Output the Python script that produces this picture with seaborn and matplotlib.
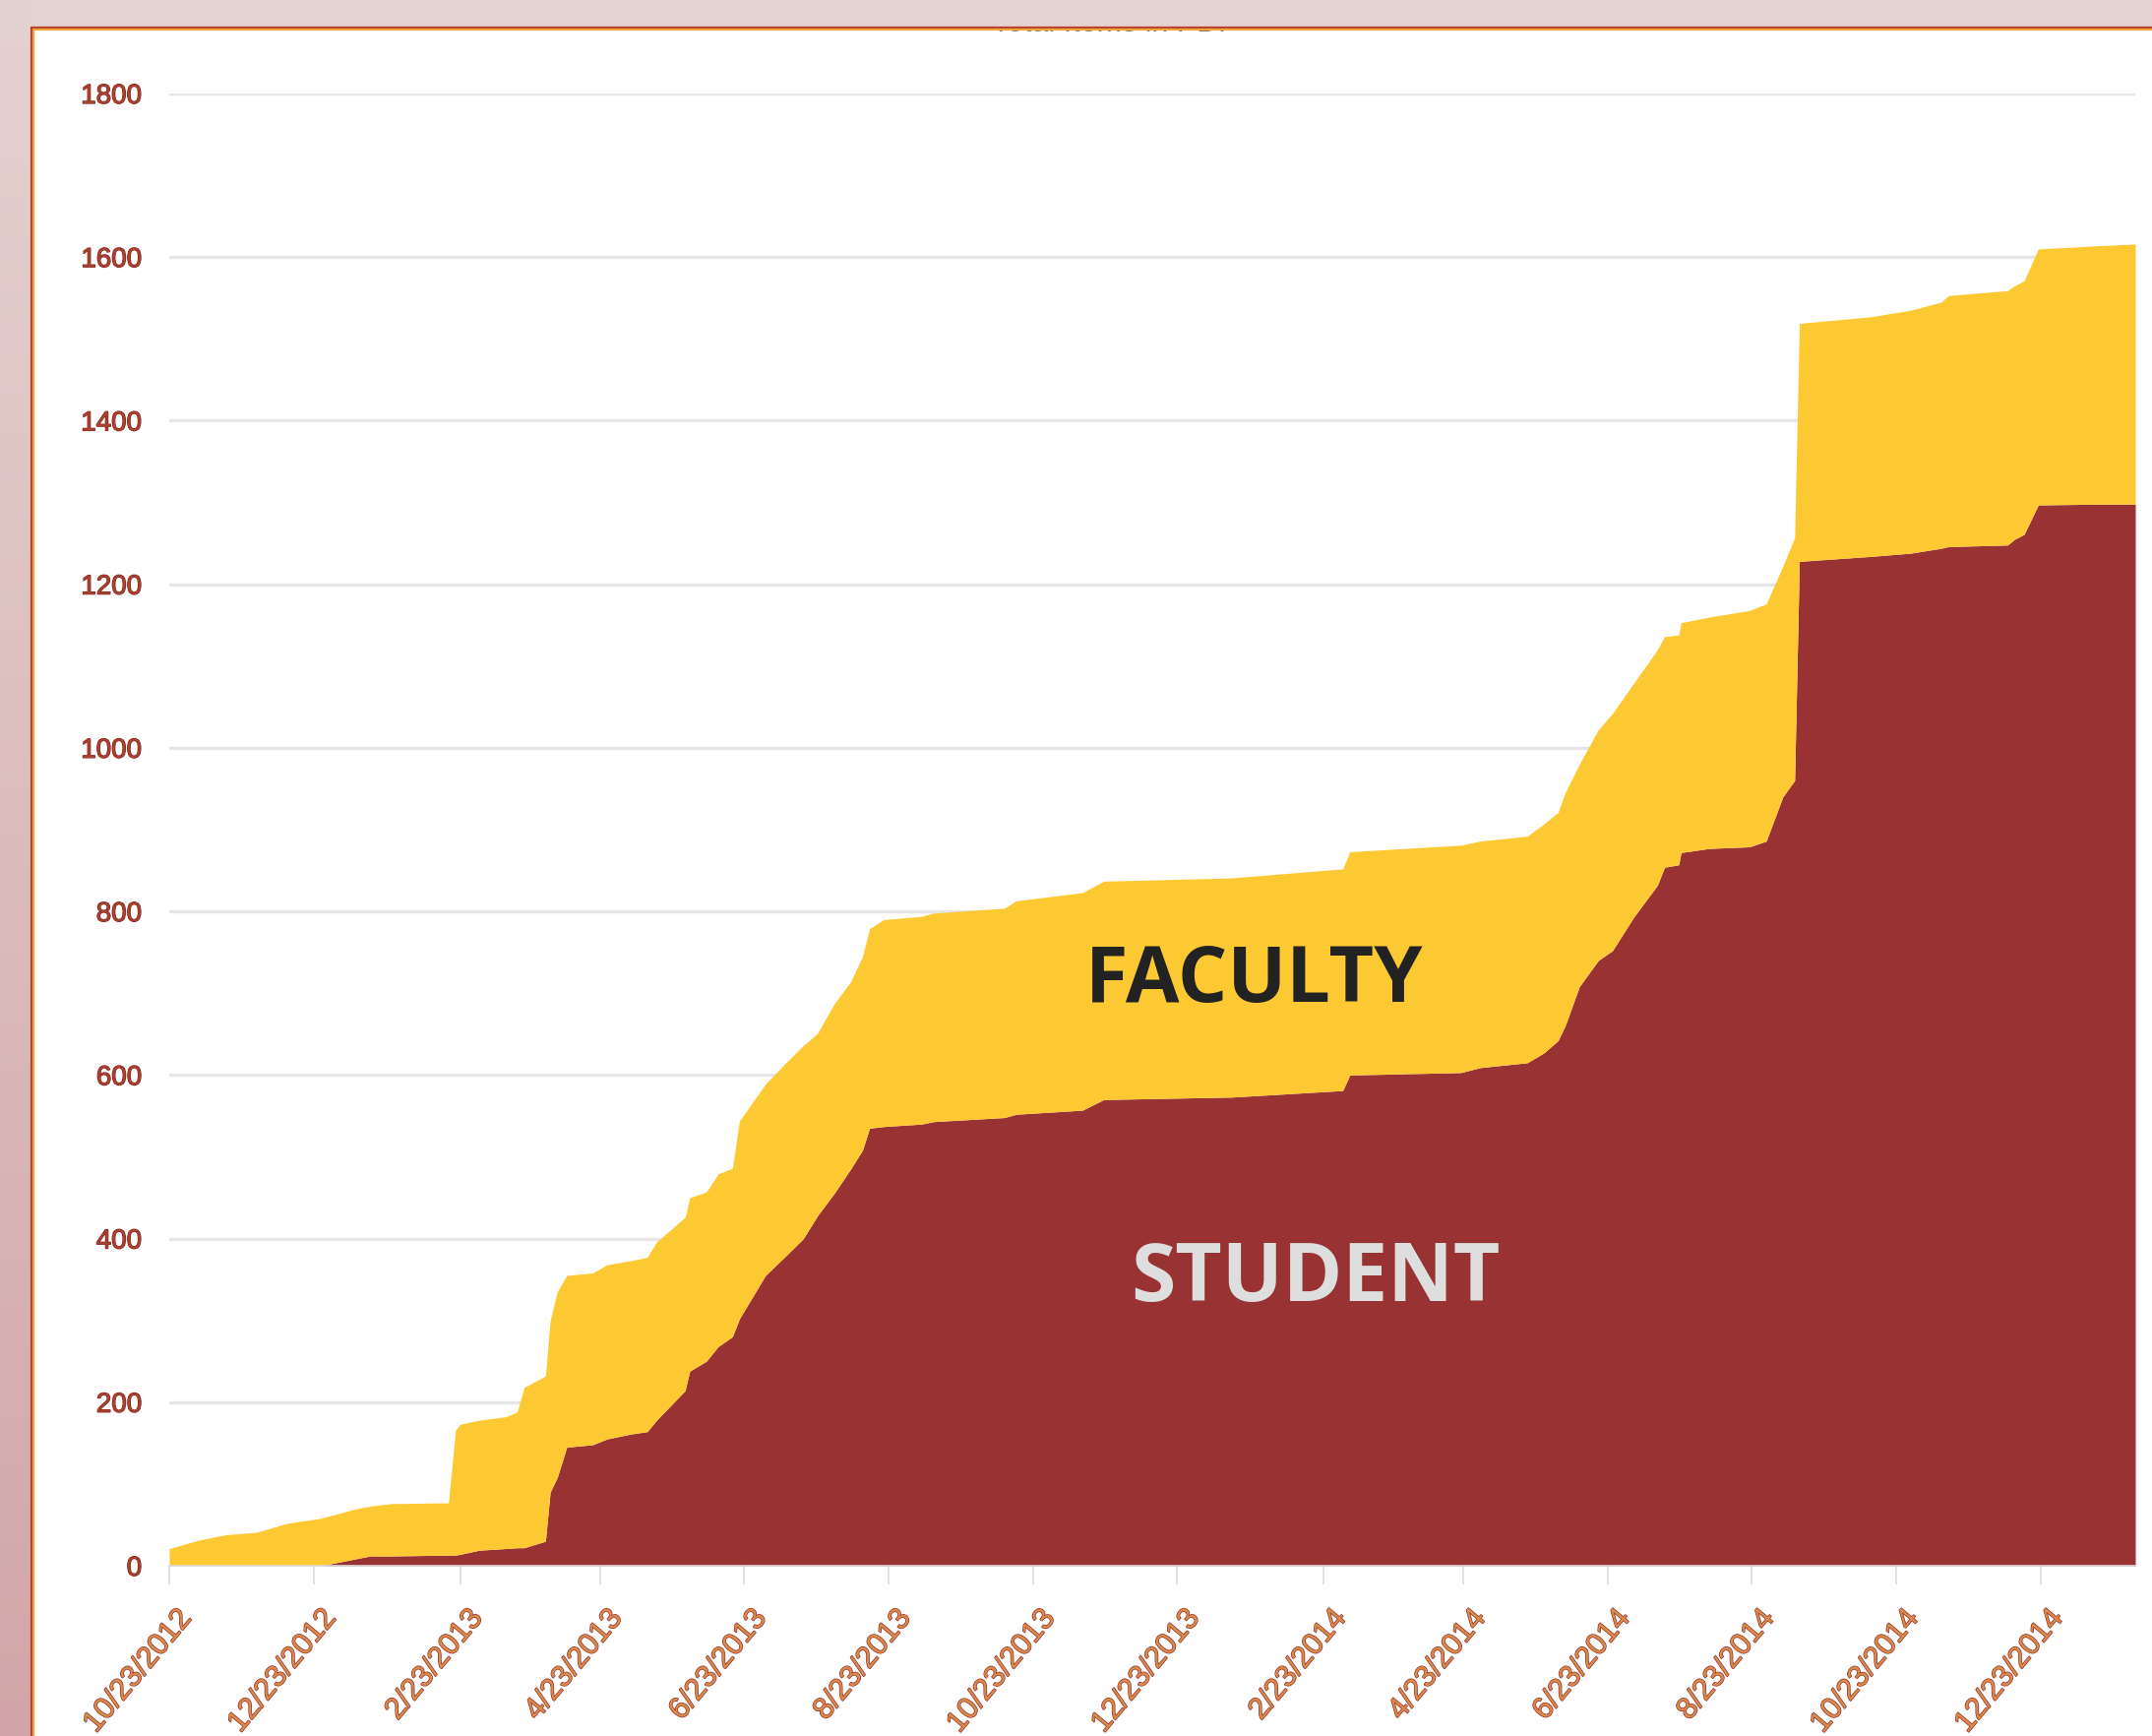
import pandas as pd
import seaborn as sns
import matplotlib.pyplot as plt
import matplotlib.patheffects as pe
from matplotlib.patches import Rectangle
from matplotlib.lines import Line2D
from matplotlib.colors import LinearSegmentedColormap
from matplotlib.transforms import ScaledTranslation
import numpy as np

# cumulative items per date
dates = ["2012-10-23", "2012-11-04", "2012-11-16", "2012-11-29", "2012-12-12", "2012-12-26",
         "2013-01-09", "2013-01-16", "2013-01-25", "2013-02-18", "2013-02-21", "2013-02-23",
         "2013-03-03", "2013-03-14", "2013-03-19", "2013-03-22", "2013-03-31", "2013-04-02",
         "2013-04-05", "2013-04-09", "2013-04-20", "2013-04-26", "2013-05-06", "2013-05-13",
         "2013-05-17", "2013-05-29", "2013-05-31", "2013-06-07", "2013-06-12", "2013-06-18",
         "2013-06-21", "2013-07-02", "2013-07-11", "2013-07-18", "2013-07-24", "2013-07-31",
         "2013-08-07", "2013-08-12", "2013-08-15", "2013-08-21", "2013-09-06", "2013-09-11",
         "2013-10-11", "2013-10-16", "2013-11-13", "2013-11-22", "2014-01-15", "2014-03-03",
         "2014-03-06", "2014-04-22", "2014-04-30", "2014-05-20", "2014-05-27", "2014-06-02",
         "2014-06-05", "2014-06-11", "2014-06-19", "2014-06-25", "2014-07-04", "2014-07-14",
         "2014-07-17", "2014-07-23", "2014-07-24", "2014-08-05", "2014-08-22", "2014-08-29",
         "2014-09-05", "2014-09-10", "2014-09-12", "2014-10-12", "2014-10-29", "2014-11-11",
         "2014-11-14", "2014-12-09", "2014-12-12", "2014-12-16", "2014-12-22", "2015-01-17",
         "2015-02-01"]
student = [0, 0, 0, 0, 0, 0, 8, 12, 12, 13, 13, 14, 19, 21, 22, 22, 30, 90, 108, 145,
           148, 155, 161, 164, 178, 214, 238, 250, 268, 280, 302, 355, 380, 400, 428, 455,
           485, 508, 535, 537, 540, 543, 548, 552, 557, 570, 573, 581, 600, 603, 609, 615,
           627, 642, 660, 708, 740, 752, 793, 832, 854, 857, 872, 877, 879, 886, 940, 960,
           1228, 1234, 1238, 1244, 1246, 1248, 1255, 1261, 1297, 1298, 1298]
faculty = [21, 31, 38, 41, 52, 58, 61, 61, 64, 64, 153, 159, 159, 161, 166, 196, 202, 210,
           227, 210, 210, 213, 212, 213, 218, 212, 212, 207, 211, 206, 242, 234, 236, 236,
           223, 232, 229, 237, 244, 253, 254, 255, 256, 261, 266, 267, 268, 271, 273, 278,
           277, 277, 280, 279, 285, 272, 282, 290, 286, 288, 282, 281, 281, 283, 289, 290,
           282, 297, 291, 293, 297, 301, 307, 311, 310, 310, 313, 316, 318]

tick_dates = ["2012-10-23", "2012-12-23", "2013-02-23", "2013-04-23", "2013-06-23",
              "2013-08-23", "2013-10-23", "2013-12-23", "2014-02-23", "2014-04-23",
              "2014-06-23", "2014-08-23", "2014-10-23", "2014-12-23"]
tick_labels = ["10/23/2012", "12/23/2012", "2/23/2013", "4/23/2013", "6/23/2013",
               "8/23/2013", "10/23/2013", "12/23/2013", "2/23/2014", "4/23/2014",
               "6/23/2014", "8/23/2014", "10/23/2014", "12/23/2014"]
y_ticks = [0, 200, 400, 600, 800, 1000, 1200, 1400, 1600, 1800]

df = pd.DataFrame({"date": pd.to_datetime(dates), "student": student, "faculty": faculty})

sns.set_theme(style="white")
plt.rcParams["font.family"] = ["Liberation Sans", "DejaVu Sans"]
palette = sns.color_palette(["#993233", "#FDC933"])

W, H = 2187, 1764
fig = plt.figure(figsize=(W / 100, H / 100), dpi=100)
fig.patch.set_facecolor("#E4D2D0")

# pink slide margin on the left, darker towards the bottom
bg = fig.add_axes([0, 0, 31 / W, 1])
bg.imshow(np.linspace(0, 1, 256).reshape(-1, 1), aspect="auto", extent=[0, 1, 0, 1],
          cmap=LinearSegmentedColormap.from_list("m", ["#E4D2D0", "#D2A6A8"]))
bg.axis("off")

# white chart panel, with the chart title mostly hidden under its top edge
fig.patches.append(Rectangle((31 / W, 0), 1, 1 - 27 / H, transform=fig.transFigure,
                             facecolor="white", edgecolor="none", zorder=0.2))
fig.text(1132 / W, 1 - 32 / H, "Total Items in PDF", ha="center", va="baseline",
         fontsize=22, color="#8C6A5A", zorder=0.3)
fig.patches.append(Rectangle((31 / W, 1 - 29 / H), 1, 29 / H, transform=fig.transFigure,
                             facecolor="#E4D2D0", edgecolor="none", zorder=0.4))
for off, col in [(27.5, "#B3402E"), (29.5, "#F1A53A")]:
    fig.add_artist(Line2D([(off + 4) / W, 1], [1 - off / H] * 2, transform=fig.transFigure,
                          color=col, lw=1.6, zorder=0.5))
    fig.add_artist(Line2D([(off + 4) / W] * 2, [0, 1 - off / H], transform=fig.transFigure,
                          color=col, lw=1.6, zorder=0.5))

ax = fig.add_axes([172 / W, 1 - 1591 / H, 1998 / W, (1591 - 95) / H])
ax.set_zorder(1)
ax.patch.set_alpha(0)
ax.stackplot(df["date"], df["student"], df["faculty"], colors=palette, linewidth=0)

ax.set_ylim(0, 1800)
ax.set_xlim(pd.Timestamp("2012-10-23"), pd.Timestamp("2015-02-01"))
ax.set_yticks(y_ticks)
ax.set_yticklabels([str(v) for v in y_ticks])
ax.set_xticks(pd.to_datetime(tick_dates))
ax.set_xticklabels(tick_labels, rotation=50, ha="right", va="top", rotation_mode="anchor")

ax.set_axisbelow(True)
ax.yaxis.grid(True, color="#E6E6E6", lw=2.4)
ax.xaxis.grid(False)
for s in ["top", "right", "left"]:
    ax.spines[s].set_visible(False)
ax.spines["bottom"].set_color("#DCDCDC")
ax.spines["bottom"].set_linewidth(1.2)

ax.tick_params(axis="y", length=0, pad=20, labelsize=20)
ax.tick_params(axis="x", bottom=True, length=14, width=1.2, color="#DCDCDC", pad=14,
               labelsize=22)

for lab in ax.get_yticklabels():
    lab.set_color("#A6432F")
    lab.set_path_effects([pe.withStroke(linewidth=0.9, foreground="#8B1E1E")])
for lab in ax.get_xticklabels():
    lab.set_color("#D98A4A")
    lab.set_path_effects([pe.withStroke(linewidth=1.0, foreground="#96302B")])
    lab.set_transform(lab.get_transform() + ScaledTranslation(0.06, 0, fig.dpi_scale_trans))

ax.text(0.552, 0.397, "FACULTY", transform=ax.transAxes, ha="center", va="center",
        fontsize=57, fontweight="bold", color="#222222", family=["Open Sans", "DejaVu Sans"])
ax.text(0.583, 0.194, "STUDENT", transform=ax.transAxes, ha="center", va="center",
        fontsize=59, fontweight="bold", color="#DEDEDE", family=["Open Sans", "DejaVu Sans"])

fig.savefig("out.png", dpi=100, facecolor=fig.get_facecolor())
